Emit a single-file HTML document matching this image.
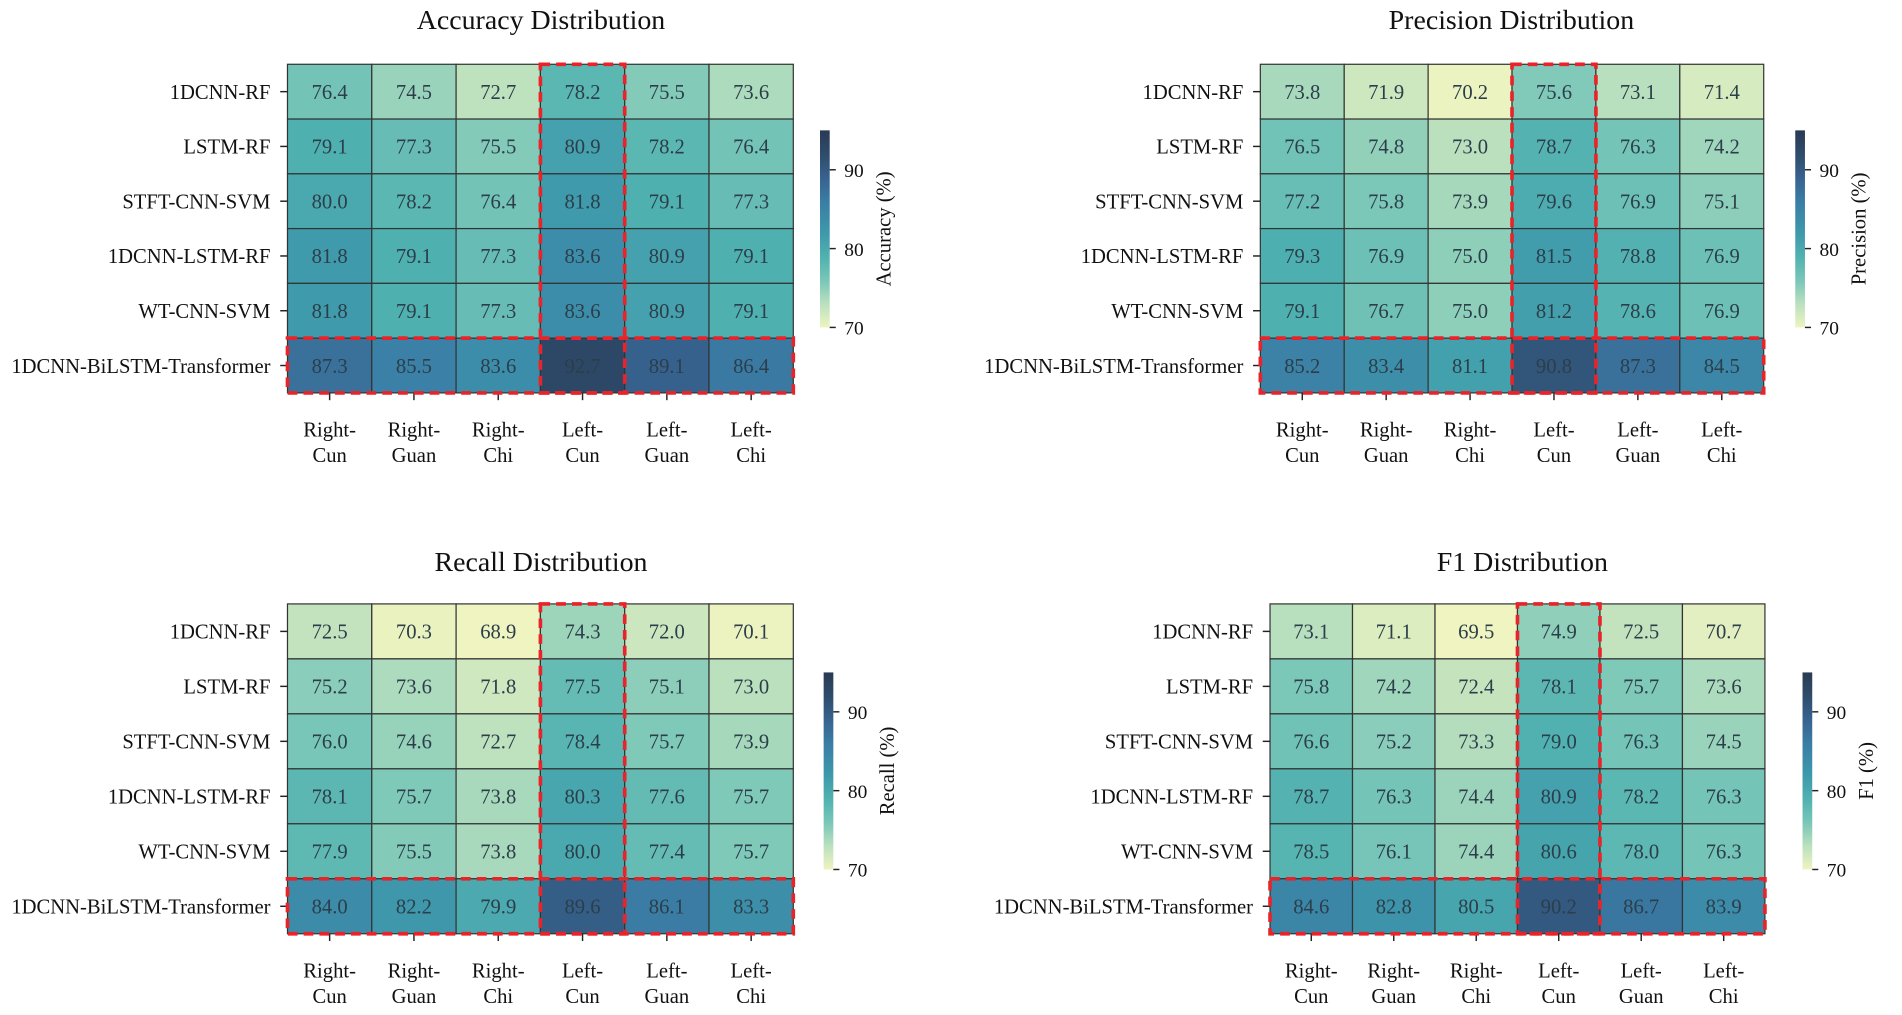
<!DOCTYPE html>
<html><head><meta charset="utf-8">
<style>
html,body{margin:0;padding:0;background:#fff;}
svg{display:block;}
text{font-family:"Liberation Serif",serif;}
</style></head>
<body>
<svg id="chart" width="1902" height="1015" viewBox="0 0 1568 837" preserveAspectRatio="none" xmlns="http://www.w3.org/2000/svg"></svg>
<script>
const models = ["1DCNN-RF","LSTM-RF","STFT-CNN-SVM","1DCNN-LSTM-RF","WT-CNN-SVM","1DCNN-BiLSTM-Transformer"];
const positions = [["Right-","Cun"],["Right-","Guan"],["Right-","Chi"],["Left-","Cun"],["Left-","Guan"],["Left-","Chi"]];
const accuracyValues = [
 [76.4,74.5,72.7,78.2,75.5,73.6],
 [79.1,77.3,75.5,80.9,78.2,76.4],
 [80.0,78.2,76.4,81.8,79.1,77.3],
 [81.8,79.1,77.3,83.6,80.9,79.1],
 [81.8,79.1,77.3,83.6,80.9,79.1],
 [87.3,85.5,83.6,92.7,89.1,86.4]];
const precisionValues = [
 [73.8,71.9,70.2,75.6,73.1,71.4],
 [76.5,74.8,73.0,78.7,76.3,74.2],
 [77.2,75.8,73.9,79.6,76.9,75.1],
 [79.3,76.9,75.0,81.5,78.8,76.9],
 [79.1,76.7,75.0,81.2,78.6,76.9],
 [85.2,83.4,81.1,90.8,87.3,84.5]];
const recallValues = [
 [72.5,70.3,68.9,74.3,72.0,70.1],
 [75.2,73.6,71.8,77.5,75.1,73.0],
 [76.0,74.6,72.7,78.4,75.7,73.9],
 [78.1,75.7,73.8,80.3,77.6,75.7],
 [77.9,75.5,73.8,80.0,77.4,75.7],
 [84.0,82.2,79.9,89.6,86.1,83.3]];
const f1Values = [
 [73.1,71.1,69.5,74.9,72.5,70.7],
 [75.8,74.2,72.4,78.1,75.7,73.6],
 [76.6,75.2,73.3,79.0,76.3,74.5],
 [78.7,76.3,74.4,80.9,78.2,76.3],
 [78.5,76.1,74.4,80.6,78.0,76.3],
 [84.6,82.8,80.5,90.2,86.7,83.9]];
const colorbarTicks = [70,80,90];
const vmin = 70, vmax = 95;

const NS = "http://www.w3.org/2000/svg";
const svg = document.getElementById("chart");
function mk(tag, attrs, parent){
  const e = document.createElementNS(NS, tag);
  for (const k in attrs) e.setAttribute(k, attrs[k]);
  (parent||svg).appendChild(e);
  return e;
}
const stops = [[70,[239,244,192]],[73,[186,224,190]],[76,[120,198,184]],[79,[80,177,176]],[82,[62,152,171]],[86,[58,125,165]],[89,[55,98,142]],[92,[46,76,108]],[95,[42,58,82]]];
function color(v){
  if (v<=stops[0][0]) return "rgb("+stops[0][1].join(",")+")";
  for (let i=1;i<stops.length;i++){
    if (v<=stops[i][0]){
      const a=stops[i-1], b=stops[i], t=(v-a[0])/(b[0]-a[0]);
      return "rgb("+a[1].map((c,j)=>Math.round(c+(b[1][j]-c)*t)).join(",")+")";
    }
  }
  return "rgb("+stops[stops.length-1][1].join(",")+")";
}

const panels = [
 {key:"accuracy", title:"Accuracy Distribution", label:"Accuracy (%)", data:accuracyValues, x0:237,x1:654,y0:53,y1:324, cbx:676, cb70:270, tx:446, ty:24},
 {key:"precision", title:"Precision Distribution", label:"Precision (%)", data:precisionValues, x0:1039,x1:1454,y0:53,y1:324, cbx:1480, cb70:270, tx:1246, ty:24},
 {key:"recall", title:"Recall Distribution", label:"Recall (%)", data:recallValues, x0:237,x1:654,y0:498,y1:770, cbx:679, cb70:717, tx:446, ty:471},
 {key:"f1", title:"F1 Distribution", label:"F1 (%)", data:f1Values, x0:1047,x1:1455,y0:498,y1:770, cbx:1486, cb70:717, tx:1255, ty:471}
];

panels.forEach(p=>{
  const g = mk("g",{});
  
  
  const nR = models.length, nC = positions.length;
  const cw = (p.x1-p.x0)/nC, ch = (p.y1-p.y0)/nR;
  const xs = c => p.x0 + c*cw;
  const ys = r => p.y0 + r*ch;
  const t = mk("text",{x:p.tx,y:p.ty,"text-anchor":"middle","font-size":23,fill:"#111"},g);
  t.textContent = p.title;
  
  
  for (let r=0;r<nR;r++){
    for (let c=0;c<nC;c++){
      const v = p.data[r][c];
      const cell = mk("rect",{x:xs(c),y:ys(r),width:cw,height:ch,fill:color(v),stroke:"#333",'stroke-width':1},g);
      
      
      const tv = mk("text",{x:xs(c)+cw/2,y:ys(r)+ch/2+6,"text-anchor":"middle","font-size":17,fill:"#2c3e4a"},g);
      tv.textContent = v.toFixed(1);
      
      
    }
    mk("line",{x1:p.x0-6,x2:p.x0,y1:ys(r)+ch/2,y2:ys(r)+ch/2,stroke:"#222",'stroke-width':1.2},g);
    const yl = mk("text",{x:p.x0-14,y:ys(r)+ch/2+6,"text-anchor":"end","font-size":17,fill:"#111"},g);
    yl.textContent = models[r];
    
    
  }
  for (let c=0;c<nC;c++){
    const cx = xs(c)+cw/2;
    mk("line",{x1:cx,x2:cx,y1:p.y1,y2:p.y1+6,stroke:"#222",'stroke-width':1.2},g);
    const xl = mk("text",{x:cx,y:p.y1+36,"text-anchor":"middle","font-size":17,fill:"#111"},g);
    
    
    const s1 = mk("tspan",{x:cx},xl); s1.textContent = positions[c][0];
    const s2 = mk("tspan",{x:cx,dy:21},xl); s2.textContent = positions[c][1];
  }
  // highlight rectangles: Left-Cun column and best model row
  const hc = 3, hr = nR-1;
  const colRect = mk("rect",{x:xs(hc),y:p.y0,width:cw,height:p.y1-p.y0,fill:"none",stroke:"#e8242a","stroke-width":3,"stroke-dasharray":"8,5"},g);
  
  
  const rowRect = mk("rect",{x:p.x0,y:ys(hr),width:p.x1-p.x0,height:ch,fill:"none",stroke:"#e8242a","stroke-width":3,"stroke-dasharray":"8,5"},g);
  
  
  // colorbar
  const per = 6.5;
  const cy = v => p.cb70 - (v-vmin)*per;
  const gradId = "grad-"+p.key;
  const defs = mk("defs",{},g);
  const lg = mk("linearGradient",{id:gradId,x1:0,y1:1,x2:0,y2:0},defs);
  stops.forEach(s=>{ mk("stop",{offset:((s[0]-vmin)/(vmax-vmin)),"stop-color":"rgb("+s[1].join(",")+")"},lg); });
  const cb = mk("rect",{x:p.cbx,y:cy(vmax),width:8,height:cy(vmin)-cy(vmax),fill:"url(#"+gradId+")"},g);
  
  
  colorbarTicks.forEach(tk=>{
    mk("line",{x1:p.cbx+8,x2:p.cbx+13,y1:cy(tk),y2:cy(tk),stroke:"#222",'stroke-width':1.2},g);
    const tt = mk("text",{x:p.cbx+20,y:cy(tk)+6,"font-size":16,fill:"#111"},g);
    tt.textContent = tk;
    
    
  });
  const mid = (cy(vmax)+cy(vmin))/2;
  const cl = mk("text",{x:p.cbx+64,y:mid,"text-anchor":"middle","font-size":17,fill:"#111",transform:"rotate(-90 "+(p.cbx+64)+" "+mid+")"},g);
  cl.setAttribute('x', p.cbx+58);
  cl.setAttribute('transform', "rotate(-90 "+(p.cbx+58)+" "+mid+")");
  cl.textContent = p.label;
  
  
});
</script>
</body></html>
